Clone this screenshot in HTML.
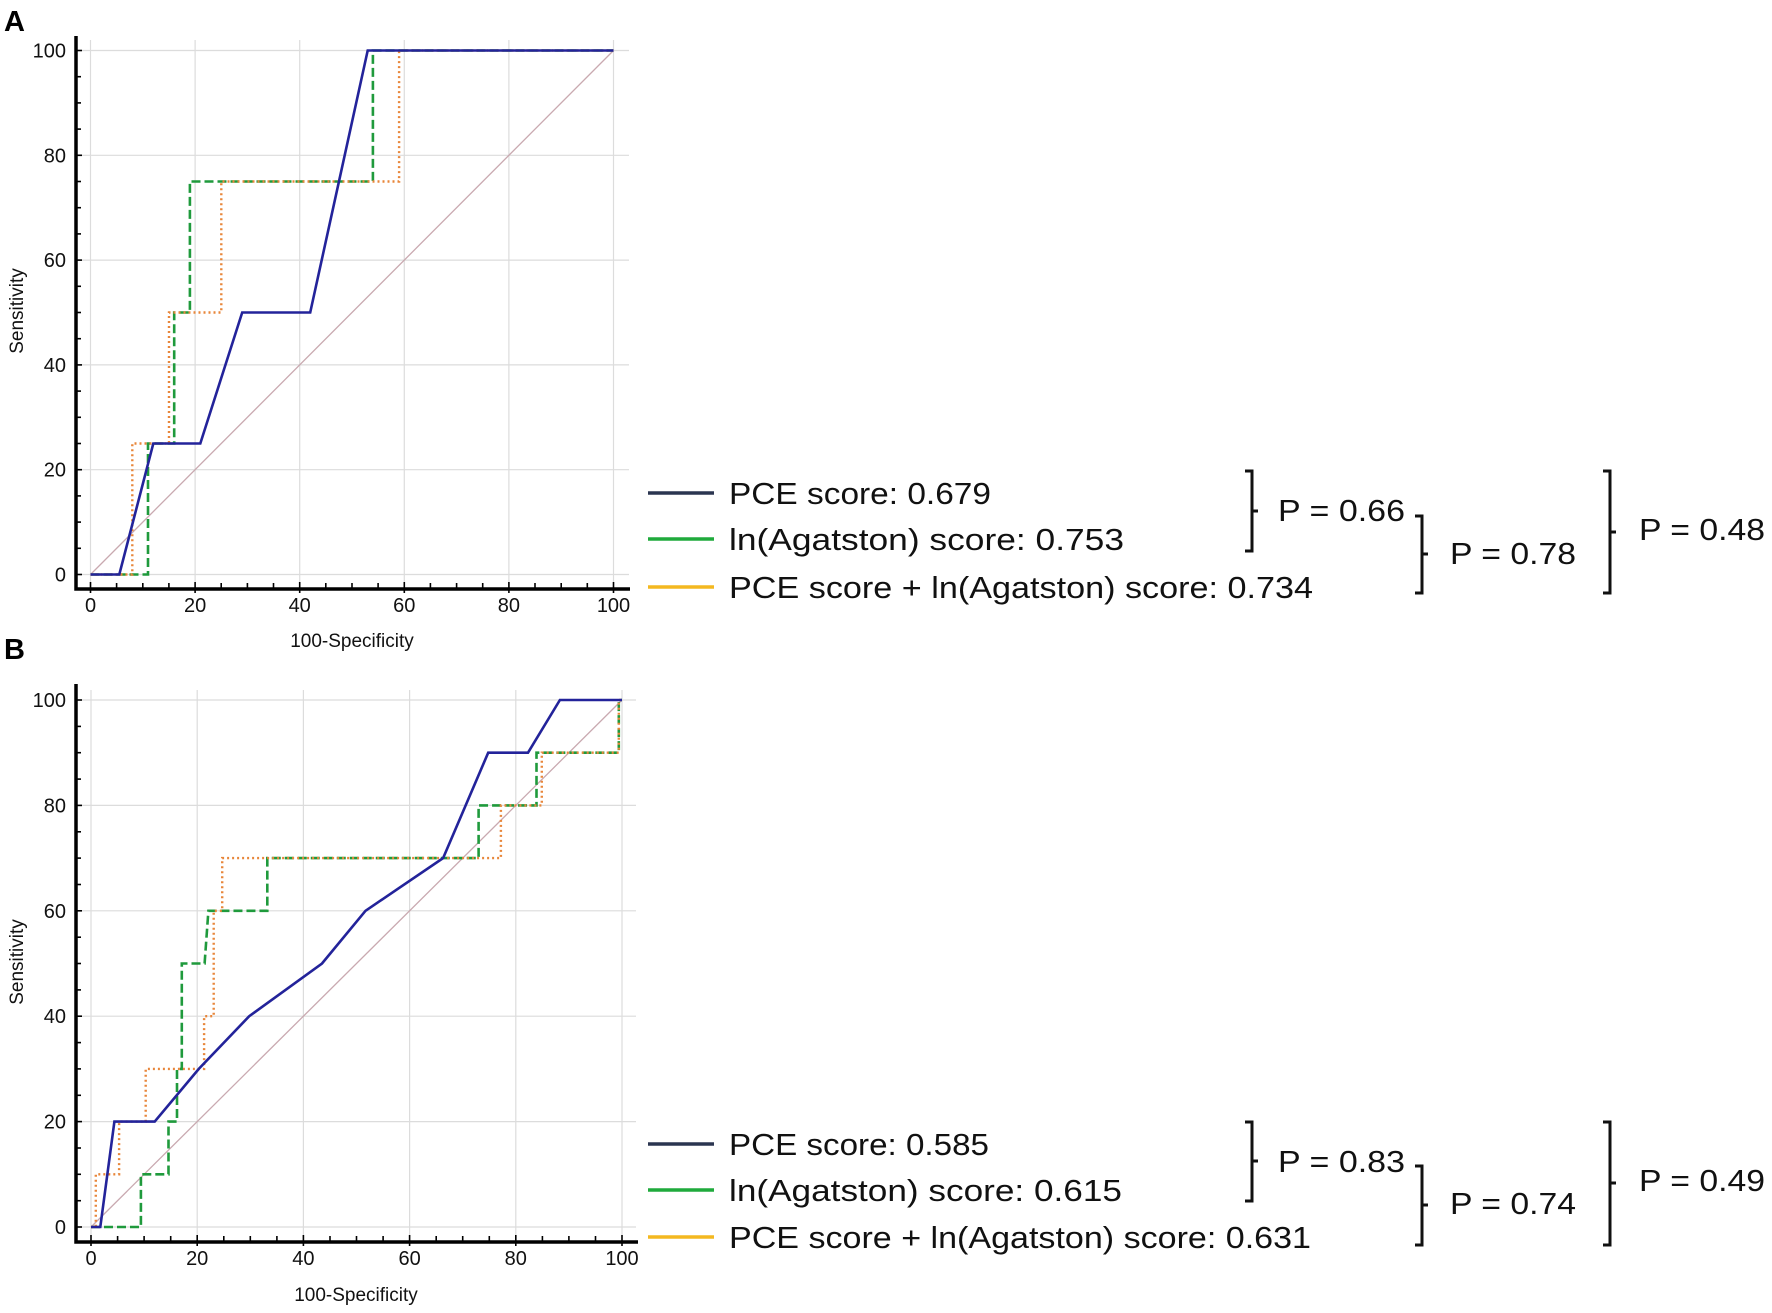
<!DOCTYPE html>
<html><head><meta charset="utf-8"><style>html,body{margin:0;padding:0;background:#fff}svg{display:block}</style></head><body>
<svg width="1772" height="1313" viewBox="0 0 1772 1313" xmlns="http://www.w3.org/2000/svg" font-family="Liberation Sans, sans-serif">
<rect width="1772" height="1313" fill="#fff"/>
<text x="4" y="31" font-size="29" font-weight="bold">A</text>
<text x="4" y="659" font-size="29" font-weight="bold">B</text>

<!-- Panel A grid -->
<g stroke="#dcdcdc" stroke-width="1.2">
<line x1="90.5" y1="40" x2="90.5" y2="585"/><line x1="195.1" y1="40" x2="195.1" y2="585"/><line x1="299.7" y1="40" x2="299.7" y2="585"/><line x1="404.3" y1="40" x2="404.3" y2="585"/><line x1="508.9" y1="40" x2="508.9" y2="585"/><line x1="613.5" y1="40" x2="613.5" y2="585"/>
<line x1="80" y1="50.5" x2="629" y2="50.5"/><line x1="80" y1="155.3" x2="629" y2="155.3"/><line x1="80" y1="260.1" x2="629" y2="260.1"/><line x1="80" y1="364.9" x2="629" y2="364.9"/><line x1="80" y1="469.7" x2="629" y2="469.7"/><line x1="80" y1="574.5" x2="629" y2="574.5"/>
</g>
<line x1="90.5" y1="574.5" x2="613.5" y2="50.5" stroke="#c9a9b0" stroke-width="1.3"/>
<path d="M90.5,574.5 H148 V443.5 H174.2 V312.5 H189.9 V181.5 H372.9 V50.5 H613.5" fill="none" stroke="#1f9a3c" stroke-width="2.6" stroke-dasharray="9,4"/>
<path d="M90.5,574.5 H132.3 V443.5 H169 V312.5 H221.3 V181.5 H399.1 V50.5 H613.5" fill="none" stroke="#e8863a" stroke-width="2.4" stroke-dasharray="2,3"/>
<path d="M90.5,574.5 L119.3,574.5 L153.3,443.5 L200.3,443.5 L242.2,312.5 L310.2,312.5 L367.7,50.5 L613.5,50.5" fill="none" stroke="#23239a" stroke-width="2.6"/>
<g stroke="#000" stroke-width="1.6">
<line x1="76" y1="50.5" x2="82" y2="50.5"/><line x1="76" y1="76.7" x2="81" y2="76.7"/><line x1="76" y1="102.9" x2="81" y2="102.9"/><line x1="76" y1="129.1" x2="81" y2="129.1"/><line x1="76" y1="155.3" x2="82" y2="155.3"/><line x1="76" y1="181.5" x2="81" y2="181.5"/><line x1="76" y1="207.7" x2="81" y2="207.7"/><line x1="76" y1="233.9" x2="81" y2="233.9"/><line x1="76" y1="260.1" x2="82" y2="260.1"/><line x1="76" y1="286.3" x2="81" y2="286.3"/><line x1="76" y1="312.5" x2="81" y2="312.5"/><line x1="76" y1="338.7" x2="81" y2="338.7"/><line x1="76" y1="364.9" x2="82" y2="364.9"/><line x1="76" y1="391.1" x2="81" y2="391.1"/><line x1="76" y1="417.3" x2="81" y2="417.3"/><line x1="76" y1="443.5" x2="81" y2="443.5"/><line x1="76" y1="469.7" x2="82" y2="469.7"/><line x1="76" y1="495.9" x2="81" y2="495.9"/><line x1="76" y1="522.1" x2="81" y2="522.1"/><line x1="76" y1="548.3" x2="81" y2="548.3"/><line x1="76" y1="574.5" x2="82" y2="574.5"/>
<line x1="90.5" y1="582" x2="90.5" y2="593"/><line x1="116.6" y1="583" x2="116.6" y2="589"/><line x1="142.8" y1="583" x2="142.8" y2="589"/><line x1="168.9" y1="583" x2="168.9" y2="589"/><line x1="195.1" y1="582" x2="195.1" y2="593"/><line x1="221.2" y1="583" x2="221.2" y2="589"/><line x1="247.4" y1="583" x2="247.4" y2="589"/><line x1="273.5" y1="583" x2="273.5" y2="589"/><line x1="299.7" y1="582" x2="299.7" y2="593"/><line x1="325.8" y1="583" x2="325.8" y2="589"/><line x1="352" y1="583" x2="352" y2="589"/><line x1="378.1" y1="583" x2="378.1" y2="589"/><line x1="404.3" y1="582" x2="404.3" y2="593"/><line x1="430.4" y1="583" x2="430.4" y2="589"/><line x1="456.6" y1="583" x2="456.6" y2="589"/><line x1="482.7" y1="583" x2="482.7" y2="589"/><line x1="508.9" y1="582" x2="508.9" y2="593"/><line x1="535" y1="583" x2="535" y2="589"/><line x1="561.2" y1="583" x2="561.2" y2="589"/><line x1="587.3" y1="583" x2="587.3" y2="589"/><line x1="613.5" y1="582" x2="613.5" y2="593"/>
</g>
<path d="M76,36 V589 H630" fill="none" stroke="#000" stroke-width="3.5"/>
<g font-size="20" text-anchor="end" fill="#111">
<text x="66" y="57.5">100</text><text x="66" y="162.3">80</text><text x="66" y="267.1">60</text><text x="66" y="371.9">40</text><text x="66" y="476.7">20</text><text x="66" y="581.5">0</text>
</g>
<g font-size="20" text-anchor="middle" fill="#111">
<text x="90.5" y="612">0</text><text x="195.1" y="612">20</text><text x="299.7" y="612">40</text><text x="404.3" y="612">60</text><text x="508.9" y="612">80</text><text x="613.5" y="612">100</text>
<text x="352" y="647" font-size="19">100-Specificity</text>
<text transform="translate(23,311) rotate(-90)" font-size="19">Sensitivity</text>
</g>

<!-- Panel B grid -->
<g stroke="#dcdcdc" stroke-width="1.2">
<line x1="91" y1="690" x2="91" y2="1237"/><line x1="197.2" y1="690" x2="197.2" y2="1237"/><line x1="303.4" y1="690" x2="303.4" y2="1237"/><line x1="409.6" y1="690" x2="409.6" y2="1237"/><line x1="515.8" y1="690" x2="515.8" y2="1237"/><line x1="622" y1="690" x2="622" y2="1237"/>
<line x1="80" y1="700" x2="636" y2="700"/><line x1="80" y1="805.4" x2="636" y2="805.4"/><line x1="80" y1="910.8" x2="636" y2="910.8"/><line x1="80" y1="1016.2" x2="636" y2="1016.2"/><line x1="80" y1="1121.6" x2="636" y2="1121.6"/><line x1="80" y1="1227" x2="636" y2="1227"/>
</g>
<line x1="91" y1="1227" x2="622" y2="700" stroke="#c9a9b0" stroke-width="1.3"/>
<path d="M91,1227 H140.9 V1174.3 H168.5 V1121.6 H177 V1068.9 H181.8 V963.5 H204.6 L208.4,910.8 H267.3 V858.1 H478.6 V805.4 H536.5 V752.7 H618.8 V700 H622" fill="none" stroke="#1f9a3c" stroke-width="2.6" stroke-dasharray="9,4"/>
<path d="M91,1227 H95.8 V1174.3 H119.1 V1121.6 H145.7 V1068.9 H204.1 V1016.2 H213.7 V910.8 H222.2 V858.1 H500.9 V805.4 H541.8 V752.7 H618.8 V700 H622" fill="none" stroke="#e8863a" stroke-width="2.4" stroke-dasharray="2,3"/>
<path d="M91,1227 L100.3,1227 L114.4,1121.6 L154.7,1121.6 L198.8,1068.9 L249.2,1016.2 L322,963.5 L365.5,910.8 L443.1,858.1 L488.2,752.7 L528,752.7 L559.9,700 L622,700" fill="none" stroke="#23239a" stroke-width="2.6"/>
<g stroke="#000" stroke-width="1.6">
<line x1="76" y1="700" x2="82" y2="700"/><line x1="76" y1="726.4" x2="81" y2="726.4"/><line x1="76" y1="752.7" x2="81" y2="752.7"/><line x1="76" y1="779.1" x2="81" y2="779.1"/><line x1="76" y1="805.4" x2="82" y2="805.4"/><line x1="76" y1="831.8" x2="81" y2="831.8"/><line x1="76" y1="858.1" x2="81" y2="858.1"/><line x1="76" y1="884.5" x2="81" y2="884.5"/><line x1="76" y1="910.8" x2="82" y2="910.8"/><line x1="76" y1="937.2" x2="81" y2="937.2"/><line x1="76" y1="963.5" x2="81" y2="963.5"/><line x1="76" y1="989.9" x2="81" y2="989.9"/><line x1="76" y1="1016.2" x2="82" y2="1016.2"/><line x1="76" y1="1042.6" x2="81" y2="1042.6"/><line x1="76" y1="1068.9" x2="81" y2="1068.9"/><line x1="76" y1="1095.3" x2="81" y2="1095.3"/><line x1="76" y1="1121.6" x2="82" y2="1121.6"/><line x1="76" y1="1148" x2="81" y2="1148"/><line x1="76" y1="1174.3" x2="81" y2="1174.3"/><line x1="76" y1="1200.7" x2="81" y2="1200.7"/><line x1="76" y1="1227" x2="82" y2="1227"/>
<line x1="91" y1="1235" x2="91" y2="1246"/><line x1="117.6" y1="1236" x2="117.6" y2="1242"/><line x1="144.1" y1="1236" x2="144.1" y2="1242"/><line x1="170.7" y1="1236" x2="170.7" y2="1242"/><line x1="197.2" y1="1235" x2="197.2" y2="1246"/><line x1="223.8" y1="1236" x2="223.8" y2="1242"/><line x1="250.3" y1="1236" x2="250.3" y2="1242"/><line x1="276.9" y1="1236" x2="276.9" y2="1242"/><line x1="303.4" y1="1235" x2="303.4" y2="1246"/><line x1="330" y1="1236" x2="330" y2="1242"/><line x1="356.5" y1="1236" x2="356.5" y2="1242"/><line x1="383.1" y1="1236" x2="383.1" y2="1242"/><line x1="409.6" y1="1235" x2="409.6" y2="1246"/><line x1="436.2" y1="1236" x2="436.2" y2="1242"/><line x1="462.7" y1="1236" x2="462.7" y2="1242"/><line x1="489.3" y1="1236" x2="489.3" y2="1242"/><line x1="515.8" y1="1235" x2="515.8" y2="1246"/><line x1="542.4" y1="1236" x2="542.4" y2="1242"/><line x1="568.9" y1="1236" x2="568.9" y2="1242"/><line x1="595.5" y1="1236" x2="595.5" y2="1242"/><line x1="622" y1="1235" x2="622" y2="1246"/>
</g>
<path d="M76,684 V1242 H638" fill="none" stroke="#000" stroke-width="3.5"/>
<g font-size="20" text-anchor="end" fill="#111">
<text x="66" y="707">100</text><text x="66" y="812.4">80</text><text x="66" y="917.8">60</text><text x="66" y="1023.2">40</text><text x="66" y="1128.6">20</text><text x="66" y="1234">0</text>
</g>
<g font-size="20" text-anchor="middle" fill="#111">
<text x="91" y="1265">0</text><text x="197.2" y="1265">20</text><text x="303.4" y="1265">40</text><text x="409.6" y="1265">60</text><text x="515.8" y="1265">80</text><text x="622" y="1265">100</text>
<text x="356" y="1301" font-size="19">100-Specificity</text>
<text transform="translate(23,962) rotate(-90)" font-size="19">Sensitivity</text>
</g>

<!-- Legends -->
<g stroke-width="3.5">
<line x1="648" y1="493" x2="714" y2="493" stroke="#2b3550"/>
<line x1="648" y1="539" x2="714" y2="539" stroke="#1faa3c"/>
<line x1="648" y1="587" x2="714" y2="587" stroke="#f4b820"/>
<line x1="648" y1="1144" x2="714" y2="1144" stroke="#2b3550"/>
<line x1="648" y1="1190" x2="714" y2="1190" stroke="#1faa3c"/>
<line x1="648" y1="1237" x2="714" y2="1237" stroke="#f4b820"/>
</g>
<g font-size="31" fill="#111">
<text x="729" y="504" textLength="262" lengthAdjust="spacingAndGlyphs">PCE score: 0.679</text>
<text x="729" y="550" textLength="395" lengthAdjust="spacingAndGlyphs">ln(Agatston) score: 0.753</text>
<text x="729" y="598" textLength="584" lengthAdjust="spacingAndGlyphs">PCE score + ln(Agatston) score: 0.734</text>
<text x="1278" y="521" textLength="127" lengthAdjust="spacingAndGlyphs">P = 0.66</text>
<text x="1450" y="564" textLength="126" lengthAdjust="spacingAndGlyphs">P = 0.78</text>
<text x="1639" y="540" textLength="126" lengthAdjust="spacingAndGlyphs">P = 0.48</text>
<text x="729" y="1155" textLength="260" lengthAdjust="spacingAndGlyphs">PCE score: 0.585</text>
<text x="729" y="1201" textLength="393" lengthAdjust="spacingAndGlyphs">ln(Agatston) score: 0.615</text>
<text x="729" y="1248" textLength="582" lengthAdjust="spacingAndGlyphs">PCE score + ln(Agatston) score: 0.631</text>
<text x="1278" y="1172" textLength="127" lengthAdjust="spacingAndGlyphs">P = 0.83</text>
<text x="1450" y="1214" textLength="126" lengthAdjust="spacingAndGlyphs">P = 0.74</text>
<text x="1639" y="1191" textLength="126" lengthAdjust="spacingAndGlyphs">P = 0.49</text>
</g>
<g fill="none" stroke="#111" stroke-width="3">
<path d="M1245,471 H1252 V551 H1245 M1252,511 H1258"/>
<path d="M1415,516 H1422 V593 H1415 M1422,554 H1428"/>
<path d="M1603,471 H1610 V593 H1603 M1610,532 H1616"/>
<path d="M1245,1122 H1252 V1201 H1245 M1252,1161 H1258"/>
<path d="M1415,1166 H1422 V1245 H1415 M1422,1205 H1428"/>
<path d="M1603,1122 H1610 V1245 H1603 M1610,1183 H1616"/>
</g>
</svg>
</body></html>
